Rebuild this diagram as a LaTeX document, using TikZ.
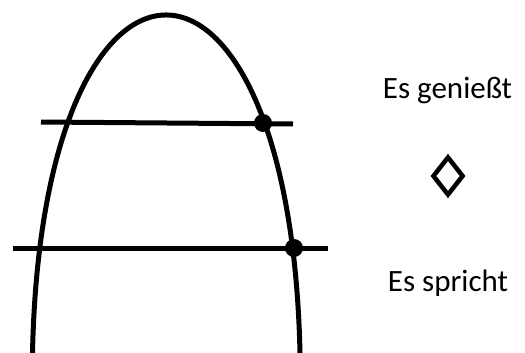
\documentclass[tikz,border=0pt]{standalone}
\usepackage{fontspec}
\setmainfont{Carlito}
\usetikzlibrary{shapes.geometric}
\begin{document}
\begin{tikzpicture}[x=1pt,y=-1pt,
  thick line/.style={line width=5pt},
  dotnode/.style={circle,fill=black,inner sep=0pt,minimum size=18pt},
  label text/.style={font=\fontsize{31}{37}\selectfont,inner sep=0pt,anchor=base}]
\useasboundingbox (0,0) rectangle (525,353);
% curve
\coordinate (cl) at (32.5,353);
\coordinate (cr) at (300,353);
\draw[thick line] (cl) .. controls (42,-97.7) and (290,-97.7) .. (cr);
% lines
\coordinate (u1) at (41,122);
\coordinate (u2) at (293,124);
\coordinate (l1) at (13,248);
\coordinate (l2) at (328,248);
\draw[thick line] (u1) -- (u2);
\draw[thick line] (l1) -- (l2);
\node[dotnode] (d1) at (263,123) {};
\node[dotnode] (d2) at (294,248) {};
% texts
\node[label text] (t1) at (447.5,98.5) {Es genießt};
\node[label text] (t2) at (448,291) {Es spricht};
\node[diamond,draw,line width=4.5pt,minimum width=31pt,minimum height=39pt,inner sep=0pt,aspect=0.8] (dia) at (448,176) {};
\end{tikzpicture}
\end{document}
